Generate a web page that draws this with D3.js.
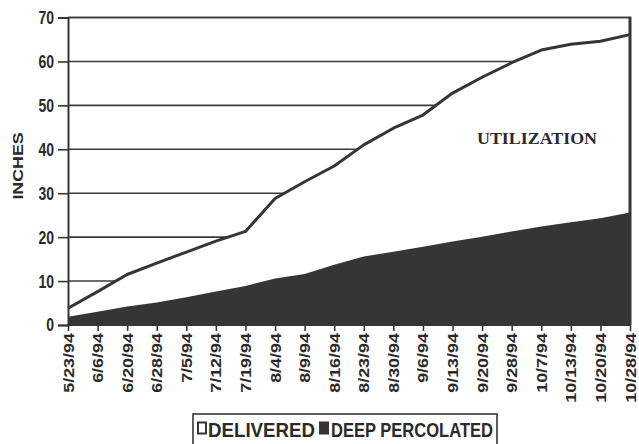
<!DOCTYPE html>
<html>
<head>
<meta charset="utf-8">
<script src="https://cdn.jsdelivr.net/npm/d3@7/dist/d3.min.js"></script>
<style>
  html, body { margin: 0; padding: 0; background: #fff; }
  svg { display: block; }
  text { fill: #2a2a2a; }
</style>
</head>
<body>
<svg id="chart" width="639" height="444"></svg>
<script>
// Irrigation dates (1994 season)
const dates = ["5/23/94", "6/6/94", "6/20/94", "6/28/94", "7/5/94", "7/12/94", "7/19/94",
  "8/4/94", "8/9/94", "8/16/94", "8/23/94", "8/30/94", "9/6/94", "9/13/94", "9/20/94",
  "9/28/94", "10/7/94", "10/13/94", "10/20/94", "10/28/94"];

// Cumulative water delivered, inches
const delivered = [3.8, 7.6, 11.5, 14.1, 16.6, 19.1, 21.3, 28.8, 32.6, 36.2, 41.0,
  44.8, 47.8, 52.8, 56.4, 59.7, 62.6, 63.9, 64.6, 66.1];

// Cumulative deep percolation, inches
const deepPercolated = [1.9, 3.0, 4.2, 5.1, 6.3, 7.6, 8.9, 10.6, 11.6, 13.7, 15.6,
  16.7, 17.8, 19.0, 20.1, 21.3, 22.4, 23.4, 24.3, 25.6];

const yTicks = [0, 10, 20, 30, 40, 50, 60, 70];

const dark = "#353535";
const svg = d3.select("#chart");

const x = d3.scalePoint().domain(dates).range([68, 630]);
const y = d3.scaleLinear().domain([0, 70]).range([325, 17.5]);

// horizontal gridlines (the filled areas cover them)
svg.append("g")
  .selectAll("line")
  .data(yTicks.filter(d => d > 0))
  .join("line")
  .attr("x1", 68).attr("x2", 630)
  .attr("y1", d => y(d)).attr("y2", d => y(d))
  .attr("stroke", "#3a3a3a").attr("stroke-width", 1.6);

const rows = dates.map((d, i) => ({ date: d, del: delivered[i], dp: deepPercolated[i] }));

// delivered (white area, outlined)
svg.append("path")
  .datum(rows)
  .attr("d", d3.area().x(d => x(d.date)).y0(y(0)).y1(d => y(d.del)))
  .attr("fill", "#fff");

svg.append("path")
  .datum(rows)
  .attr("d", d3.line().x(d => x(d.date)).y(d => y(d.del)))
  .attr("fill", "none")
  .attr("stroke", dark)
  .attr("stroke-width", 3)
  .attr("stroke-linejoin", "round");

// deep percolated (dark area)
svg.append("path")
  .datum(rows)
  .attr("d", d3.area().x(d => x(d.date)).y0(y(0)).y1(d => y(d.dp)))
  .attr("fill", dark);

// top and right frame
svg.append("line")
  .attr("x1", 68).attr("x2", 631).attr("y1", y(70)).attr("y2", y(70))
  .attr("stroke", "#3a3a3a").attr("stroke-width", 1.6);
svg.append("line")
  .attr("x1", 630).attr("x2", 630).attr("y1", y(70) - 0.8).attr("y2", y(0))
  .attr("stroke", dark).attr("stroke-width", 3);

// y axis
const yAxis = svg.append("g")
  .attr("transform", "translate(68,0)")
  .call(d3.axisLeft(y).tickValues(yTicks).tickSize(10).tickPadding(4).tickFormat(d3.format("d")));
yAxis.select(".domain").attr("stroke", dark).attr("stroke-width", 2);
yAxis.selectAll(".tick line").attr("stroke", dark).attr("stroke-width", 1.6);
yAxis.selectAll(".tick text")
  .attr("font-family", "'Liberation Sans', Arial, sans-serif")
  .attr("font-weight", "bold")
  .attr("font-size", 14)
  .attr("dy", "0.34em")
  .attr("transform", "scale(1,1.25)")
  .style("fill", "#2a2a2a");

// x axis
const xAxis = svg.append("g")
  .attr("transform", `translate(0,${y(0)})`)
  .call(d3.axisBottom(x).tickSize(6).tickSizeOuter(0));
xAxis.select(".domain").attr("stroke", dark).attr("stroke-width", 2).attr("d", "M67,0H631");
xAxis.selectAll(".tick line").attr("stroke", dark).attr("stroke-width", 1.6);
xAxis.selectAll(".tick text")
  .attr("font-family", "'Liberation Sans', Arial, sans-serif")
  .attr("font-weight", "bold")
  .attr("font-size", 14)
  .attr("text-anchor", "end")
  .attr("x", -6.3)
  .attr("y", 0)
  .attr("dy", "0.36em")
  .attr("transform", "rotate(-90) scale(1.28,1)")
  .style("fill", "#2a2a2a");

// y axis title
svg.append("text")
  .attr("transform", "translate(23,166) rotate(-90) scale(1.27,1)")
  .attr("text-anchor", "middle")
  .attr("font-family", "'Liberation Sans', Arial, sans-serif")
  .attr("font-weight", "bold")
  .attr("font-size", 14)
  .text("INCHES");

// area annotation
svg.append("text")
  .attr("x", 477).attr("y", 144)
  .attr("font-family", "'Liberation Serif', 'Times New Roman', serif")
  .attr("font-weight", "bold")
  .attr("font-size", 17)
  .attr("textLength", 120)
  .attr("lengthAdjust", "spacingAndGlyphs")
  .text("UTILIZATION");

// legend
const lg = svg.append("g");
lg.append("rect")
  .attr("x", 193).attr("y", 414).attr("width", 304).attr("height", 36)
  .attr("fill", "#fff").attr("stroke", dark).attr("stroke-width", 1.6);
lg.append("rect")
  .attr("x", 198).attr("y", 422.5).attr("width", 8).attr("height", 11)
  .attr("fill", "#fff").attr("stroke", dark).attr("stroke-width", 2);
lg.append("text")
  .attr("x", 208).attr("y", 437)
  .attr("font-family", "'Liberation Sans', Arial, sans-serif")
  .attr("font-weight", "bold")
  .attr("font-size", 20)
  .attr("textLength", 107)
  .attr("lengthAdjust", "spacingAndGlyphs")
  .text("DELIVERED");
lg.append("rect")
  .attr("x", 319).attr("y", 421.5).attr("width", 10).attr("height", 13)
  .attr("fill", dark);
lg.append("text")
  .attr("x", 331).attr("y", 437)
  .attr("font-family", "'Liberation Sans', Arial, sans-serif")
  .attr("font-weight", "bold")
  .attr("font-size", 20)
  .attr("textLength", 162)
  .attr("lengthAdjust", "spacingAndGlyphs")
  .text("DEEP PERCOLATED");
</script>
</body>
</html>
